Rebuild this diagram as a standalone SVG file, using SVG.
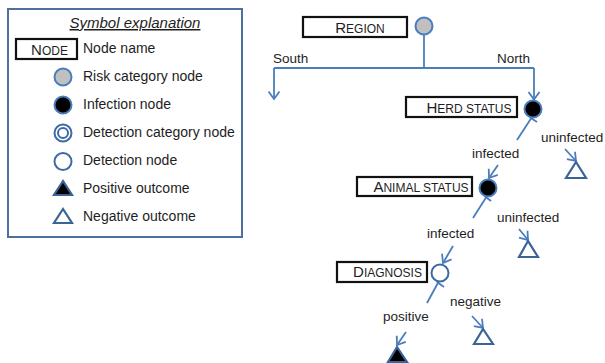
<svg xmlns="http://www.w3.org/2000/svg" width="605" height="363" viewBox="0 0 605 363">
<style>
  text { font-family: "Liberation Sans", Arial, sans-serif; fill: #1e1e1e; }
  .lg { font-size: 14px; }
  .lb { font-size: 13.5px; }
  .nm { font-size: 12px; }
  .nm .cap { font-size: 15px; }
  .box { fill: #fff; stroke: #111; stroke-width: 2.2; }
  .con { fill: none; stroke: #4a7dbd; stroke-width: 1.8; }
  .risk { fill: #c0c0c0; stroke: #4a7dbd; stroke-width: 2; }
  .inf { fill: #000; stroke: #4a7dbd; stroke-width: 2; }
  .det { fill: #fff; stroke: #3e6aa3; stroke-width: 2; }
  .neg { fill: #fff; stroke: #3b6496; stroke-width: 2.2; stroke-linejoin: miter; }
  .pos { fill: #000; stroke: #3b6496; stroke-width: 2.2; }
</style>
<defs>
  <marker id="arr" markerUnits="userSpaceOnUse" markerWidth="14" markerHeight="14" viewBox="-9 -7 11 14" refX="0" refY="0" orient="auto">
    <path d="M-7.5,-5.5 L0,0 L-7.5,5.5" fill="none" stroke="#4a7dbd" stroke-width="1.8"/>
  </marker>
</defs>

<g id="legend">
  <rect x="8" y="9" width="234" height="228" fill="#fff" stroke="#4f6fa0" stroke-width="2"/>
  <text x="135" y="28" text-anchor="middle" font-size="15" font-style="italic" text-decoration="underline">Symbol explanation</text>
  <g id="legend-node">
    <rect class="box" x="16" y="39" width="61" height="20"/>
    <text class="nm" x="49.5" y="55" text-anchor="middle"><tspan class="cap">N</tspan>ODE</text>
    <text class="lg" x="83" y="53">Node name</text>
  </g>
  <g id="legend-risk">
    <circle class="risk" cx="63" cy="77" r="8.5"/>
    <text class="lg" x="83" y="81">Risk category node</text>
  </g>
  <g id="legend-infection">
    <circle class="inf" cx="63" cy="105" r="8.5"/>
    <text class="lg" x="83" y="109">Infection node</text>
  </g>
  <g id="legend-detcat">
    <circle class="det" cx="63" cy="133" r="8.5"/>
    <circle class="det" cx="63" cy="133" r="5"/>
    <text class="lg" x="83" y="137">Detection category node</text>
  </g>
  <g id="legend-detection">
    <circle class="det" cx="63" cy="161.5" r="8.5"/>
    <text class="lg" x="83" y="165">Detection node</text>
  </g>
  <g id="legend-positive">
    <polygon class="pos" points="63,181 54,195 72,195"/>
    <text class="lg" x="83" y="193">Positive outcome</text>
  </g>
  <g id="legend-negative">
    <polygon class="neg" points="63,209 54,223 72,223"/>
    <text class="lg" x="83" y="221">Negative outcome</text>
  </g>
</g>

<g id="connectors">
  <line class="con" x1="424" y1="34.5" x2="424" y2="68"/>
  <line class="con" x1="274" y1="68" x2="534" y2="68"/>
  <line class="con" x1="274" y1="68" x2="274" y2="99" marker-end="url(#arr)"/>
  <line class="con" x1="534" y1="68" x2="534" y2="99.5" marker-end="url(#arr)"/>
  <line class="con" x1="532" y1="117" x2="517" y2="140"/>
  <line class="con" x1="530" y1="117.5" x2="537" y2="122"/>
  <line class="con" x1="498" y1="165" x2="489" y2="178" marker-end="url(#arr)"/>
  <line class="con" x1="565" y1="149" x2="576" y2="161" marker-end="url(#arr)"/>
  <line class="con" x1="487" y1="196" x2="473" y2="218"/>
  <line class="con" x1="485" y1="196.5" x2="491" y2="201"/>
  <line class="con" x1="519" y1="229" x2="528" y2="240" marker-end="url(#arr)"/>
  <line class="con" x1="453" y1="246" x2="443" y2="263" marker-end="url(#arr)"/>
  <line class="con" x1="439" y1="281" x2="427" y2="303"/>
  <line class="con" x1="437" y1="282" x2="444" y2="287"/>
  <line class="con" x1="472" y1="316" x2="483" y2="328" marker-end="url(#arr)"/>
  <line class="con" x1="406" y1="332" x2="397" y2="345" marker-end="url(#arr)"/>
  <text class="lb" x="273" y="63">South</text>
  <text class="lb" x="497" y="63">North</text>
  <text class="lb" x="541" y="142">uninfected</text>
  <text class="lb" x="472" y="158">infected</text>
  <text class="lb" x="497" y="222">uninfected</text>
  <text class="lb" x="427" y="238">infected</text>
  <text class="lb" x="450" y="306">negative</text>
  <text class="lb" x="383" y="321">positive</text>
</g>

<g id="region">
  <rect class="box" x="303" y="17" width="104" height="20"/>
  <text class="nm" x="360" y="33" text-anchor="middle"><tspan class="cap">R</tspan>EGION</text>
  <circle class="risk" cx="424" cy="26" r="8.5"/>
</g>
<g id="herd-status">
  <rect class="box" x="406" y="97" width="111" height="20"/>
  <text class="nm" x="469" y="113" text-anchor="middle"><tspan class="cap">H</tspan>ERD STATUS</text>
  <circle class="inf" cx="533" cy="109" r="8.5"/>
</g>
<g id="herd-uninfected">
  <polygon class="neg" points="576,162 566,178 586,178"/>
</g>
<g id="animal-status">
  <rect class="box" x="357" y="177" width="115" height="19"/>
  <text class="nm" x="421" y="192" text-anchor="middle"><tspan class="cap">A</tspan>NIMAL STATUS</text>
  <circle class="inf" cx="488" cy="188" r="8.5"/>
</g>
<g id="animal-uninfected">
  <polygon class="neg" points="528,241 519,257 538,257"/>
</g>
<g id="diagnosis">
  <rect class="box" x="337" y="262" width="90" height="20"/>
  <text class="nm" x="387.5" y="277" text-anchor="middle"><tspan class="cap">D</tspan>IAGNOSIS</text>
  <circle class="det" cx="440" cy="273" r="8.5"/>
</g>
<g id="negative">
  <polygon class="neg" points="483,329 474,344 493,344"/>
</g>
<g id="positive">
  <polygon class="pos" points="397,347 388,362 407,362"/>
</g>
</svg>
